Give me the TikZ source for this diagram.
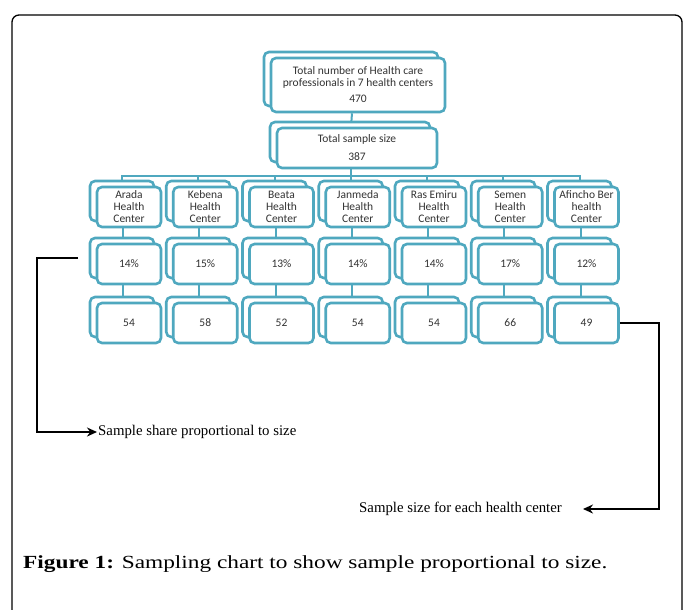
\documentclass[tikz,border=0pt]{standalone}
\usepackage{fontspec}
\setmainfont{Liberation Serif}
\newfontfamily\boxfont{Carlito}
\newfontfamily\capfont[FakeStretch=1.26]{Liberation Serif}
\usetikzlibrary{shadows,backgrounds,arrows.meta}
\definecolor{smartteal}{HTML}{4FA8BF}

\begin{document}
\begin{tikzpicture}[x=1pt, y=-1pt,
  hbox/.style={draw=smartteal, fill=white, line width=2.6pt, rounded corners=5pt,
               align=center, inner sep=1pt, text=black!80,
               font=\boxfont\fontsize{11.5}{12}\selectfont,
               copy shadow={shadow xshift=-7pt, shadow yshift=6pt,
                            draw=smartteal, fill=white, line width=2.6pt}},
  leaf/.style={hbox, minimum width=64pt, minimum height=40pt},
  link/.style={draw=smartteal, line width=2pt},
  pointer/.style={line width=2pt, -{Stealth[length=10pt,width=9pt]}},
  lbl/.style={font=\fontsize{14.8}{17}\selectfont, inner sep=1pt},
]
\useasboundingbox (0,0) rectangle (683,610);
\clip (0,0) rectangle (683,610);

% outer frame
\draw[line width=1.3pt, rounded corners=7pt] (12,15) rectangle (682,640);

% top of the hierarchy
\node[hbox, minimum width=174pt, minimum height=54pt] (tot) at (358,85)
  {Total number of Health care\\professionals in 7 health centers\\[4pt]470};
\node[hbox, minimum width=160pt, minimum height=40pt] (smp) at (357,148)
  {Total sample size\\[6pt]387};

% one column per health center
\foreach \i/\hc/\pct/\num in {1/{Arada\\Health\\Center}/14/54,
    2/{Kebena\\Health\\Center}/15/58, 3/{Beata\\Health\\Center}/13/52,
    4/{Janmeda\\Health\\Center}/14/54, 5/{Ras Emiru\\Health\\Center}/14/54,
    6/{Semen\\Health\\Center}/17/66, 7/{Afincho Ber\\health\\Center}/12/49}{
  \node[leaf] (c\i) at ({129+76.25*(\i-1)},207) {\hc};
  \node[leaf] (p\i) at ({129+76.25*(\i-1)},264) {\pct\%};
  \node[leaf] (n\i) at ({129+76.25*(\i-1)},323) {\num};
}

\begin{scope}[on background layer]
  \draw[link] ([xshift=-6pt]tot.south) -- ([xshift=-6pt]smp.north);
  \foreach \i in {1,...,7}{
    \draw[link] ([xshift=-6pt]smp.south) -- ++(0,7) -| ([xshift=-7pt]c\i.north);
    \draw[link] ([xshift=-6pt]c\i.south) -- ([xshift=-6pt]p\i.north);
    \draw[link] ([xshift=-6pt]p\i.south) -- ([xshift=-6pt]n\i.north);
  }
\end{scope}

% side notes
\node[lbl, anchor=west] (share) at (97,432) {Sample share proportional to size};
\node[lbl, anchor=east] (each) at (563,509) {Sample size for each health center};
\coordinate (pstart) at (78,258);
\draw[pointer] (pstart) -- ++(-41,0) |- (share.west);
\draw[pointer] (n7.east) -- ++(39,0) |- ([xshift=20pt]each.east);

% caption
\node[anchor=base west, inner sep=0pt, font=\capfont\fontsize{18.5}{22}\selectfont] (cap) at (23,568)
  {\textbf{Figure 1:} Sampling chart to show sample proportional to size.};
\end{tikzpicture}
\end{document}
